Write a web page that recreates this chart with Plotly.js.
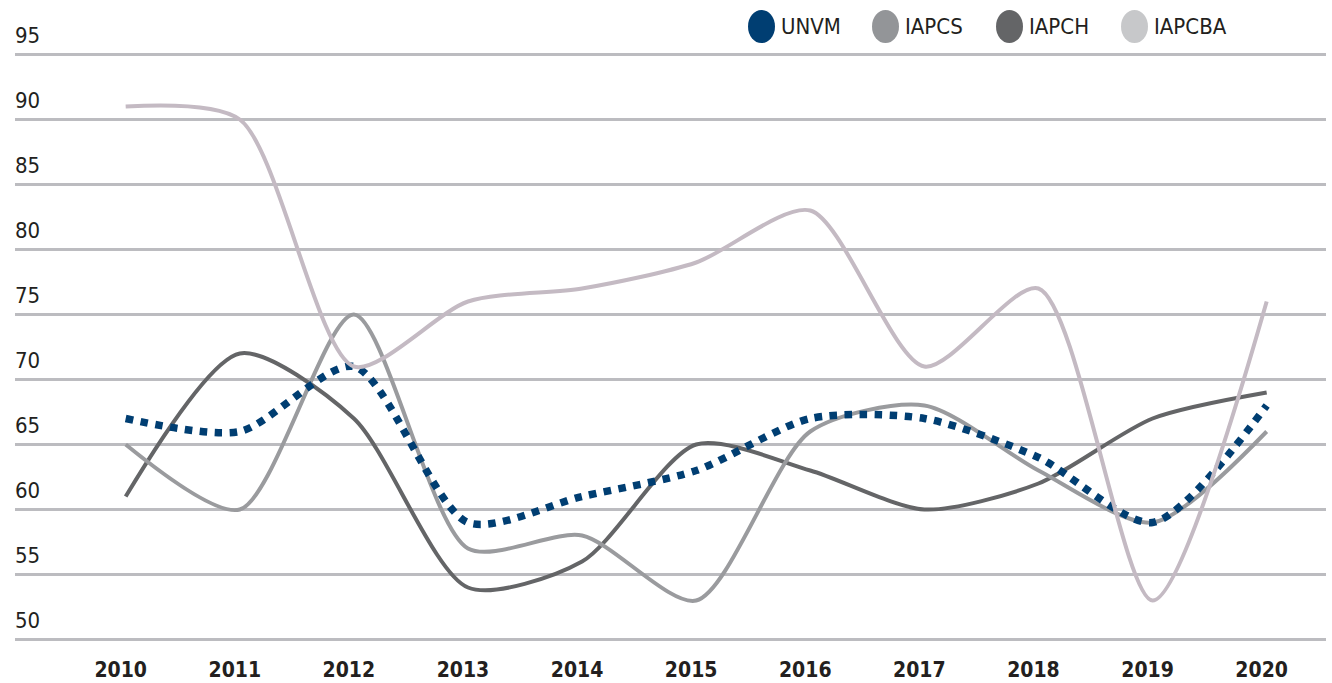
<!DOCTYPE html>
<html>
<head>
<meta charset="utf-8">
<script src="https://cdn.plot.ly/plotly-3.0.1.min.js"></script>
<style>
  html, body { margin: 0; padding: 0; background: #ffffff; }
  #chart { width: 1332px; height: 683px; }
</style>
</head>
<body>
<div id="chart"></div>
<script>
const years = [2010, 2011, 2012, 2013, 2014, 2015, 2016, 2017, 2018, 2019, 2020];
const yearLabels = ['2010', '2011', '2012', '2013', '2014', '2015', '2016', '2017', '2018', '2019', '2020'];
const unvm   = [67, 66, 71, 59, 61, 63, 67, 67, 64, 59, 68];
const iapcs  = [65, 60, 75, 57, 58, 53, 66, 68, 63, 59, 66];
const iapch  = [61, 72, 67, 54, 56, 65, 63, 60, 62, 67, 69];
const iapcba = [91, 90, 71, 76, 77, 79, 83, 71, 77, 53, 76];
const yTicks = [50, 55, 60, 65, 70, 75, 80, 85, 90, 95];
const seriesNames = ['UNVM', 'IAPCS', 'IAPCH', 'IAPCBA'];

const FONT = '"Liberation Sans Narrow", "DejaVu Sans Condensed", "Liberation Sans", sans-serif';
const TXT = '#231f20';
const lineColors = { UNVM: '#003e72', IAPCS: '#9a9b9e', IAPCH: '#646567', IAPCBA: '#c4bac3' };
const legendColors = { UNVM: '#003e72', IAPCS: '#939598', IAPCH: '#646567', IAPCBA: '#c7c8ca' };
const SM = 0.75;

const traces = [
  { name: 'IAPCH', x: years, y: iapch, mode: 'lines', showlegend: false,
    line: { color: lineColors.IAPCH, width: 4, shape: 'spline', smoothing: SM } },
  { name: 'IAPCS', x: years, y: iapcs, mode: 'lines', showlegend: false,
    line: { color: lineColors.IAPCS, width: 4, shape: 'spline', smoothing: SM } },
  { name: 'UNVM', x: years, y: unvm, mode: 'lines', showlegend: false,
    line: { color: lineColors.UNVM, width: 7.5, dash: 'dot', shape: 'spline', smoothing: SM } },
  { name: 'IAPCBA', x: years, y: iapcba, mode: 'lines', showlegend: false,
    line: { color: lineColors.IAPCBA, width: 4, shape: 'spline', smoothing: SM } }
];

// Manual legend (large round markers) in pixel units anchored to paper
const shapes = [];
const annotations = [];
const plotLeft = 15, plotWidth = 1332 - 15 - 6;
const legendCentersPx = [761.5, 885.5, 1009.5, 1134.5];
const plotTop = 22;
seriesNames.forEach((nm, i) => {
  const px = (legendCentersPx[i] - plotLeft) / plotWidth;
  shapes.push({
    type: 'circle', xref: 'paper', yref: 'paper',
    xsizemode: 'pixel', ysizemode: 'pixel',
    xanchor: px, yanchor: 1,
    x0: -13.5, x1: 13.5, y0: plotTop - 43, y1: plotTop - 10,
    fillcolor: legendColors[nm], line: { width: 0 }, layer: 'above'
  });
  annotations.push({
    xref: 'paper', yref: 'paper', x: px, y: 1, xanchor: 'left', yanchor: 'middle',
    xshift: 17, yshift: plotTop - 26.5, showarrow: false, text: nm,
    font: { family: FONT, size: 22, color: TXT }
  });
});

const layout = {
  width: 1332, height: 683,
  margin: { l: 15, r: 6, t: plotTop, b: 37, pad: 0 },
  paper_bgcolor: '#ffffff', plot_bgcolor: '#ffffff',
  showlegend: false,
  font: { family: FONT, color: TXT },
  xaxis: {
    range: [2009.03, 2020.52],
    tickvals: years, ticktext: yearLabels,
    showgrid: false, zeroline: false, showline: false, ticks: '',
    tickfont: { family: FONT, size: 21, color: TXT, weight: 'bold' },
    ticklabelshift: -5, ticklabelstandoff: 9
  },
  yaxis: {
    range: [49.5, 97.5],
    tickvals: yTicks,
    showgrid: true, gridcolor: '#bcbcc0', gridwidth: 3.5,
    zeroline: false, showline: false, ticks: '',
    ticklabelposition: 'inside top', ticklabelstandoff: -3, ticklabelshift: -4,
    tickfont: { family: FONT, size: 22, color: TXT }
  },
  shapes: shapes,
  annotations: annotations
};

Plotly.newPlot('chart', traces, layout, { displayModeBar: false, staticPlot: true });
</script>
</body>
</html>
